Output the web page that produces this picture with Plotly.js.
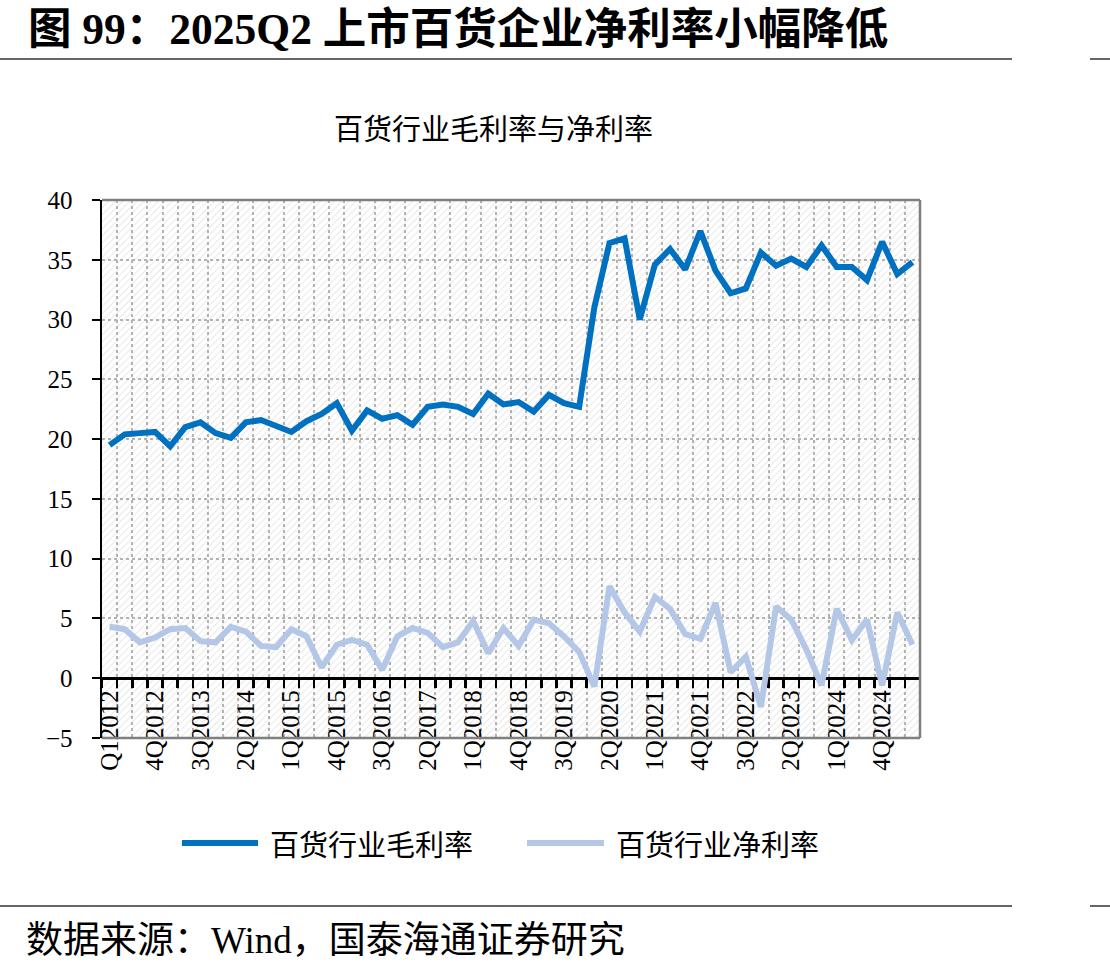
<!DOCTYPE html>
<html>
<head>
<meta charset="utf-8">
<script src="https://cdn.plot.ly/plotly-3.0.1.min.js"></script>
<style>
  html, body { margin: 0; padding: 0; background: #ffffff; }
  #chart { width: 1110px; height: 971px; }
</style>
</head>
<body>
<div id="chart"></div>
<script>
// Quarterly periods, 1Q2012 – 2Q2025
const quarters = [
  'Q12012','2Q2012','3Q2012','4Q2012',
  '1Q2013','2Q2013','3Q2013','4Q2013',
  '1Q2014','2Q2014','3Q2014','4Q2014',
  '1Q2015','2Q2015','3Q2015','4Q2015',
  '1Q2016','2Q2016','3Q2016','4Q2016',
  '1Q2017','2Q2017','3Q2017','4Q2017',
  '1Q2018','2Q2018','3Q2018','4Q2018',
  '1Q2019','2Q2019','3Q2019','4Q2019',
  '1Q2020','2Q2020','3Q2020','4Q2020',
  '1Q2021','2Q2021','3Q2021','4Q2021',
  '1Q2022','2Q2022','3Q2022','4Q2022',
  '1Q2023','2Q2023','3Q2023','4Q2023',
  '1Q2024','2Q2024','3Q2024','4Q2024',
  '1Q2025','2Q2025'
];

// Department-store industry gross margin (%)
const grossMargin = [
  19.5, 20.4, 20.5, 20.6,
  19.4, 21.0, 21.4, 20.5,
  20.1, 21.4, 21.6, 21.1,
  20.6, 21.5, 22.1, 23.0,
  20.7, 22.4, 21.7, 22.0,
  21.2, 22.7, 22.9, 22.7,
  22.1, 23.8, 22.9, 23.1,
  22.3, 23.7, 23.0, 22.7,
  31.0, 36.4, 36.8, 30.0,
  34.6, 35.9, 34.2, 37.4,
  34.1, 32.2, 32.6, 35.6,
  34.5, 35.1, 34.4, 36.2,
  34.4, 34.4, 33.3, 36.5,
  33.8, 34.8
];

// Department-store industry net margin (%)
const netMargin = [
  4.3, 4.1, 3.0, 3.4,
  4.1, 4.2, 3.1, 3.0,
  4.3, 3.9, 2.7, 2.6,
  4.1, 3.5, 0.9, 2.8,
  3.2, 2.8, 0.7, 3.5,
  4.2, 3.8, 2.6, 3.0,
  4.8, 2.1, 4.2, 2.7,
  4.9, 4.6, 3.5, 2.2,
  -0.7, 7.7, 5.5, 3.9,
  6.8, 5.8, 3.7, 3.3,
  6.3, 0.5, 1.8, -2.4,
  6.0, 4.9, 2.4, -0.6,
  5.8, 3.2, 4.9, -0.6,
  5.5, 2.8
];

const yTickVals = [-5, 0, 5, 10, 15, 20, 25, 30, 35, 40];
const labelEvery = 3;

const grossName = '百货行业毛利率';
const netName = '百货行业净利率';
const chartTitle = '百货行业毛利率与净利率';
const heading = '图 99：2025Q2 上市百货企业净利率小幅降低';
const sourceNote = '数据来源：Wind，国泰海通证券研究';

const grossColor = '#0070C0';
const netColor = '#B4C7E7';

// ---- page geometry (pixels -> paper fractions) ----
const W = 1110, H = 971;
const px = x => x / W;
const py = y => 1 - y / H;

const plotLeft = 102, plotRight = 920, plotTop = 200, plotBottom = 738;
const yMin = -5, yMax = 40;
const xDomain = [px(plotLeft), px(plotRight)];
const yDomain = [py(plotBottom), py(plotTop)];
const zeroPos = yDomain[0] + (0 - yMin) / (yMax - yMin) * (yDomain[1] - yDomain[0]);

const tickText = quarters.map((q, i) => (i % labelEvery === 0 ? q : ''));

// faint diagonal hatch behind the plot area
const hatchSvg =
  "<svg xmlns='http://www.w3.org/2000/svg' width='" + (plotRight - plotLeft) + "' height='" + (plotBottom - plotTop) + "'>" +
  "<defs><pattern id='h' width='5' height='5' patternUnits='userSpaceOnUse' patternTransform='rotate(45)'>" +
  "<line x1='0' y1='0' x2='0' y2='5' stroke='#e9e9e9' stroke-width='2'/></pattern></defs>" +
  "<rect width='100%' height='100%' fill='url(#h)'/></svg>";
const hatchUri = 'data:image/svg+xml;charset=utf-8,' + encodeURIComponent(hatchSvg);

const serif = 'Liberation Serif, Times New Roman, serif';
const cjkSans = 'Noto Sans CJK SC, sans-serif';
const mixed = 'Liberation Serif, Noto Sans CJK SC, serif';

const traces = [
  {
    x: quarters, y: grossMargin, name: grossName,
    type: 'scatter', mode: 'lines',
    line: { color: grossColor, width: 6 },
    hoverinfo: 'skip', showlegend: false
  },
  {
    x: quarters, y: netMargin, name: netName,
    type: 'scatter', mode: 'lines',
    line: { color: netColor, width: 6 },
    hoverinfo: 'skip', showlegend: false
  }
];

const gridDash = '3px,3px';
const frameColor = '#808080';

const shapes = [
  // plot frame: top, right, bottom
  { type: 'line', xref: 'paper', yref: 'paper', x0: xDomain[0], x1: xDomain[1], y0: yDomain[1], y1: yDomain[1], line: { color: frameColor, width: 2.5 } },
  { type: 'line', xref: 'paper', yref: 'paper', x0: xDomain[1], x1: xDomain[1], y0: yDomain[0], y1: yDomain[1], line: { color: frameColor, width: 2.5 } },
  { type: 'line', xref: 'paper', yref: 'paper', x0: xDomain[0], x1: xDomain[1], y0: yDomain[0], y1: yDomain[0], line: { color: frameColor, width: 2.5 } },
  // rules under the heading and above the source note
  { type: 'line', xref: 'paper', yref: 'paper', x0: 0, x1: px(1012), y0: py(59), y1: py(59), line: { color: '#333333', width: 1.5 } },
  { type: 'line', xref: 'paper', yref: 'paper', x0: px(1090), x1: 1, y0: py(59), y1: py(59), line: { color: '#333333', width: 1.5 } },
  { type: 'line', xref: 'paper', yref: 'paper', x0: 0, x1: px(1012), y0: py(906), y1: py(906), line: { color: '#333333', width: 1.5 } },
  { type: 'line', xref: 'paper', yref: 'paper', x0: px(1090), x1: 1, y0: py(906), y1: py(906), line: { color: '#333333', width: 1.5 } },
  // legend swatches
  { type: 'line', xref: 'paper', yref: 'paper', x0: px(182), x1: px(258), y0: py(843), y1: py(843), line: { color: grossColor, width: 6 } },
  { type: 'line', xref: 'paper', yref: 'paper', x0: px(527), x1: px(604), y0: py(843), y1: py(843), line: { color: netColor, width: 6 } }
];

const annotations = [
  { text: '<b>' + heading + '</b>', xref: 'paper', yref: 'paper', x: px(26), y: py(29), xanchor: 'left', yanchor: 'middle', showarrow: false, font: { family: mixed, size: 43.5, color: '#000000' } },
  { text: chartTitle, xref: 'paper', yref: 'paper', x: px(493), y: py(127), xanchor: 'center', yanchor: 'middle', showarrow: false, font: { family: cjkSans, size: 29, color: '#000000' } },
  { text: grossName, xref: 'paper', yref: 'paper', x: px(268), y: py(843), xanchor: 'left', yanchor: 'middle', showarrow: false, font: { family: cjkSans, size: 29, color: '#000000' } },
  { text: netName, xref: 'paper', yref: 'paper', x: px(614), y: py(843), xanchor: 'left', yanchor: 'middle', showarrow: false, font: { family: cjkSans, size: 29, color: '#000000' } },
  { text: sourceNote, xref: 'paper', yref: 'paper', x: px(24), y: py(940), xanchor: 'left', yanchor: 'middle', showarrow: false, font: { family: mixed, size: 37, color: '#000000' } }
];

const layout = {
  width: W, height: H,
  margin: { l: 0, r: 0, t: 0, b: 0, pad: 0 },
  paper_bgcolor: '#ffffff',
  plot_bgcolor: 'rgba(0,0,0,0)',
  showlegend: false,
  xaxis: {
    type: 'category',
    domain: xDomain,
    anchor: 'free',
    position: zeroPos,
    range: [-0.5, quarters.length - 0.5],
    tickmode: 'array',
    tickvals: quarters,
    ticktext: tickText,
    tickson: 'boundaries',
    ticks: 'outside', ticklen: 8, tickwidth: 2.5, tickcolor: '#000000',
    tickangle: -90,
    tickfont: { family: serif, size: 25, color: '#000000' },
    showline: true, linecolor: '#000000', linewidth: 3,
    showgrid: true, gridcolor: '#b3b3b3', gridwidth: 2, griddash: gridDash,
    zeroline: false,
    layer: 'below traces',
    fixedrange: true
  },
  yaxis: {
    domain: yDomain,
    anchor: 'x',
    range: [yMin, yMax],
    tickmode: 'array',
    tickvals: yTickVals,
    ticks: 'outside', ticklen: 8, tickwidth: 2, tickcolor: '#000000',
    ticklabelstandoff: 14,
    tickfont: { family: serif, size: 25, color: '#000000' },
    showline: true, linecolor: '#000000', linewidth: 2.5,
    showgrid: true, gridcolor: '#b3b3b3', gridwidth: 2, griddash: gridDash,
    zeroline: false,
    layer: 'below traces',
    fixedrange: true
  },
  images: [{
    source: hatchUri,
    xref: 'paper', yref: 'paper',
    x: xDomain[0], y: yDomain[1],
    sizex: xDomain[1] - xDomain[0], sizey: yDomain[1] - yDomain[0],
    xanchor: 'left', yanchor: 'top',
    sizing: 'stretch', layer: 'below'
  }],
  shapes: shapes,
  annotations: annotations
};

Plotly.newPlot('chart', traces, layout, { staticPlot: true, displayModeBar: false });
</script>
</body>
</html>
